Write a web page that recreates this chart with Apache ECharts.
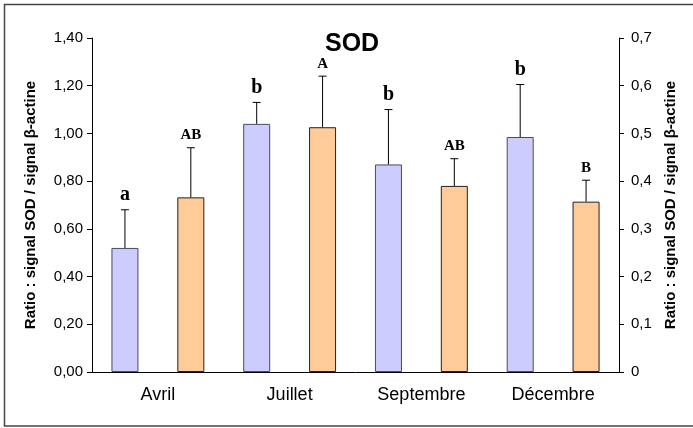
<!DOCTYPE html>
<html>
<head>
<meta charset="utf-8">
<script src="https://cdn.jsdelivr.net/npm/echarts@6/dist/echarts.min.js"></script>
<style>
html,body{margin:0;padding:0;background:#fff;}
#c{width:693px;height:428px;}
</style>
</head>
<body>
<div id="c"></div>
<script>
// ---- data ----
var months = ['Avril', 'Juillet', 'Septembre', 'Décembre'];
var blueMean = [0.52, 1.04, 0.87, 0.985];          // left axis
var blueErr = [0.16, 0.09, 0.23, 0.22];
var blueLetters = ['a', 'b', 'b', 'b'];
var orangeMean = [0.366, 0.513, 0.39, 0.357];      // right axis
var orangeErr = [0.104, 0.107, 0.057, 0.045];
var orangeLetters = ['AB', 'A', 'AB', 'B'];
var leftTicks = [0, 0.2, 0.4, 0.6, 0.8, 1.0, 1.2, 1.4];
var rightTicks = [0, 0.1, 0.2, 0.3, 0.4, 0.5, 0.6, 0.7];

// ---- build ----
var slots = [];
var blueBars = [], orangeBars = [], blueErrData = [], orangeErrData = [];
months.forEach(function (m, i) {
  slots.push(m + '-1', m + '-2');
  blueBars.push(blueMean[i], '-');
  orangeBars.push('-', orangeMean[i]);
  blueErrData.push([2 * i, blueMean[i], blueErr[i]]);
  orangeErrData.push([2 * i + 1, orangeMean[i], orangeErr[i]]);
});

function errRender(letters, big) {
  return function (params, api) {
    var x = api.value(0), m = api.value(1), s = api.value(2);
    var p0 = api.coord([x, m]);
    var p1 = api.coord([x, m + s]);
    var lineStyle = { stroke: '#000', lineWidth: 1 };
    return {
      type: 'group',
      children: [
        { type: 'line', shape: { x1: p0[0], y1: p0[1], x2: p1[0], y2: p1[1] }, style: lineStyle },
        { type: 'line', shape: { x1: p1[0] - 4, y1: p1[1], x2: p1[0] + 4, y2: p1[1] }, style: lineStyle },
        {
          type: 'text',
          style: {
            text: letters[params.dataIndex],
            x: p1[0], y: p1[1] - 5,
            align: 'center', verticalAlign: 'bottom',
            font: big ? 'bold 20px "Liberation Serif"' : 'bold 15px "Liberation Serif"',
            fill: '#000'
          }
        }
      ]
    };
  };
}

var nameStyle = { fontFamily: 'Liberation Sans', fontWeight: 'bold', fontSize: 15, color: '#000' };
var labStyle = { fontFamily: 'Liberation Sans', fontSize: 15, color: '#000' };

var chart = echarts.init(document.getElementById('c'));
chart.setOption({
  backgroundColor: '#fff',
  animation: false,
  title: {
    text: 'SOD', left: 320, top: 27,
    textStyle: { fontFamily: 'Liberation Sans', fontWeight: 'bold', fontSize: 25, color: '#000' }
  },
  graphic: [{
    type: 'rect', silent: true, z: -1,
    shape: { x: 4.5, y: 4.5, width: 800, height: 421.5 },
    style: { fill: 'none', stroke: '#444', lineWidth: 1.5 }
  }],
  grid: { left: 92, right: 74, top: 38, bottom: 56 },
  xAxis: [{
    type: 'category', data: slots, boundaryGap: true,
    axisLine: { lineStyle: { color: '#000', width: 1 } },
    axisTick: { length: 4, lineStyle: { color: '#000' } },
    axisLabel: { show: false }, splitLine: { show: false }
  }, {
    type: 'category', data: months, boundaryGap: true, position: 'bottom',
    axisLine: { show: false },
    axisTick: { length: 7, lineStyle: { color: '#000' } },
    axisLabel: { margin: 14, fontFamily: 'Liberation Sans', fontSize: 18, color: '#000' },
    splitLine: { show: false }
  }],
  yAxis: [{
    type: 'value', min: leftTicks[0], max: leftTicks[leftTicks.length - 1], interval: 0.2,
    name: 'Ratio : signal SOD / signal β-actine', nameLocation: 'middle', nameGap: 54, nameRotate: 90,
    nameTextStyle: nameStyle,
    axisLine: { show: true, lineStyle: { color: '#000' } },
    axisTick: { show: true, length: 5, lineStyle: { color: '#000' } },
    axisLabel: { margin: 9, formatter: function (v) { return v.toFixed(2).replace('.', ','); }, textStyle: labStyle },
    splitLine: { show: false }
  }, {
    type: 'value', position: 'right', min: rightTicks[0], max: rightTicks[rightTicks.length - 1], interval: 0.1,
    name: 'Ratio : signal SOD / signal β-actine', nameLocation: 'middle', nameGap: 44, nameRotate: 90,
    nameTextStyle: nameStyle,
    axisLine: { show: true, lineStyle: { color: '#000' } },
    axisTick: { show: true, length: 5, lineStyle: { color: '#000' } },
    axisLabel: { margin: 12, formatter: function (v) { return v === 0 ? '0' : v.toFixed(1).replace('.', ','); }, textStyle: labStyle },
    splitLine: { show: false }
  }],
  series: [{
    type: 'bar', xAxisIndex: 0, yAxisIndex: 0, data: blueBars, barWidth: 27, barGap: '-100%',
    itemStyle: { color: '#CCCCFF', borderColor: '#4a4a60', borderWidth: 1 }
  }, {
    type: 'bar', xAxisIndex: 0, yAxisIndex: 1, data: orangeBars, barWidth: 27, barGap: '-100%',
    itemStyle: { color: '#FFCC99', borderColor: '#222', borderWidth: 1 }
  }, {
    type: 'custom', xAxisIndex: 0, yAxisIndex: 0, data: blueErrData,
    renderItem: errRender(blueLetters, true), z: 3
  }, {
    type: 'custom', xAxisIndex: 0, yAxisIndex: 1, data: orangeErrData,
    renderItem: errRender(orangeLetters, false), z: 3
  }]
});
</script>
</body>
</html>
